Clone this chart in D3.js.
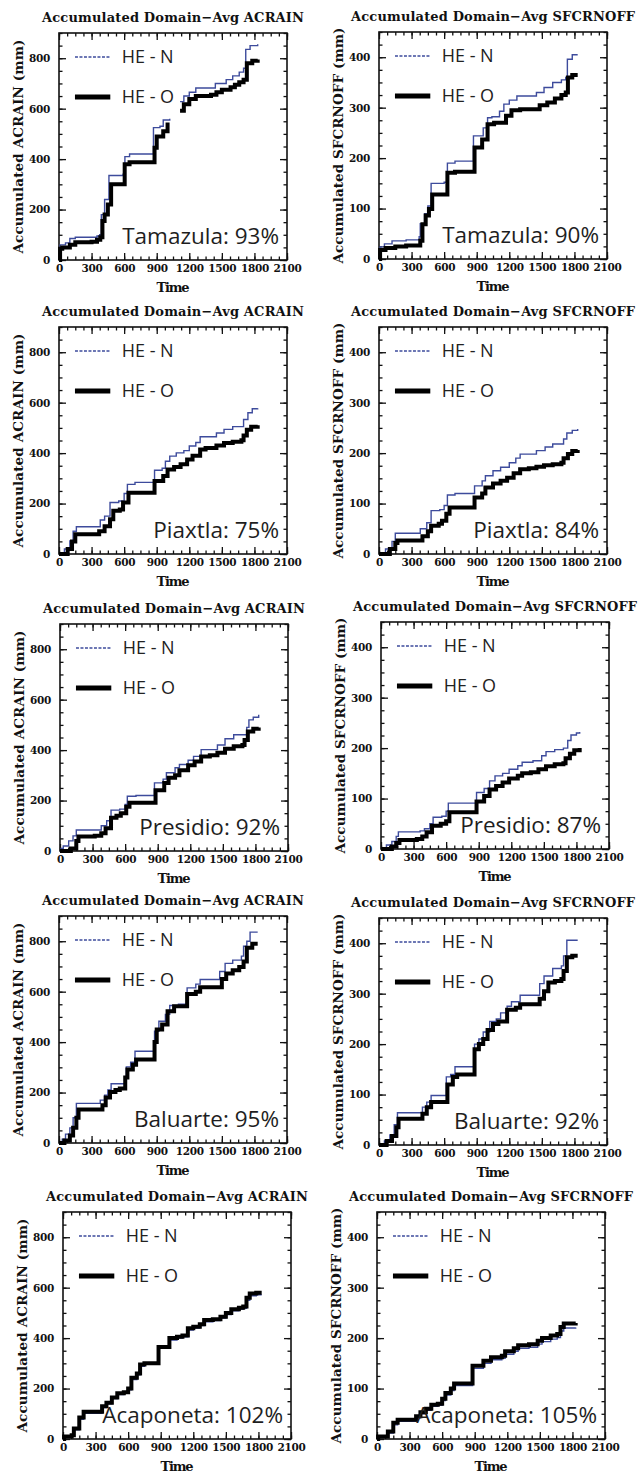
<!DOCTYPE html>
<html>
<head>
<meta charset="utf-8">
<script src="https://cdn.jsdelivr.net/npm/d3@7"></script>
<style>
  body { margin: 0; background: #fff; }
  svg { display: block; }
</style>
</head>
<body>
<div id="chart"></div>
<script>
// basins and the ratio printed in each panel
const basins = ['Tamazula', 'Piaxtla', 'Presidio', 'Baluarte', 'Acaponeta'];
const rainPct = ['93%', '75%', '92%', '95%', '102%'];
const runoffPct = ['90%', '84%', '87%', '92%', '105%'];

const xTicks = [0, 300, 600, 900, 1200, 1500, 1800, 2100];
const rainTicks = [0, 200, 400, 600, 800];
const runoffTicks = [0, 100, 200, 300, 400];

// [time, accumulated mm]  (null = missing output)
const tamazulaRainN = [[0,0],[10,60],[60,68],[100,85],[150,90],[350,95],[375,100],[390,180],[420,240],[460,335],[590,340],[607,410],[650,420],[870,525],[930,530],[960,555],[1020,560],[1030,null],[1115,628],[1150,650],[1200,665],[1260,682],[1440,700],[1540,715],[1600,730],[1660,745],[1700,760],[1720,835],[1760,850],[1830,855]];
const tamazulaRainO = [[0,0],[10,45],[30,50],[100,60],[150,70],[300,72],[350,80],[380,90],[400,155],[420,180],[450,220],[480,300],[605,380],[650,388],[880,445],[900,490],[960,510],[1000,545],[1030,null],[1115,592],[1150,618],[1200,638],[1260,650],[1400,655],[1450,665],[1500,675],[1580,685],[1620,695],[1660,705],[1700,715],[1730,780],[1780,790],[1830,795]];
const tamazulaRunN = [[0,0],[10,24],[50,30],[120,36],[250,38],[370,44],[380,70],[420,90],[450,105],[480,150],[600,152],[630,190],[700,194],[870,244],[960,260],[1000,280],[1040,282],[1110,293],[1150,307],[1200,315],[1270,323],[1450,330],[1520,340],[1600,350],[1680,355],[1720,360],[1735,396],[1780,405],[1830,405]];
const tamazulaRunO = [[0,0],[10,18],[60,22],[150,25],[250,27],[380,36],[400,69],[430,86],[460,99],[490,128],[630,171],[700,173],[880,221],[950,237],[1000,267],[1060,270],[1170,284],[1220,295],[1300,297],[1480,305],[1550,310],[1620,318],[1680,325],[1720,330],[1740,360],[1780,365],[1830,365]];

const piaxtlaRainN = [[0,0],[50,20],[100,52],[130,90],[160,108],[380,135],[420,150],[470,204],[550,210],[600,240],[630,276],[700,284],[880,332],[950,340],[980,368],[1020,388],[1080,401],[1150,410],[1200,428],[1260,442],[1300,465],[1450,480],[1520,494],[1600,505],[1700,533],[1740,560],[1780,576],[1830,578]];
const piaxtlaRainO = [[0,0],[80,20],[120,50],[150,78],[370,90],[420,110],[470,138],[500,171],[560,176],[590,204],[640,243],[880,289],[960,309],[1000,335],[1060,345],[1120,356],[1180,375],[1230,390],[1300,414],[1350,420],[1450,430],[1520,440],[1600,445],[1680,451],[1700,470],[1730,493],[1770,505],[1830,510]];
const piaxtlaRunN = [[0,0],[60,10],[120,25],[150,41],[380,50],[440,62],[480,86],[560,88],[600,96],[630,117],[700,120],[880,135],[950,145],[980,155],[1050,165],[1120,172],[1200,181],[1260,190],[1300,198],[1450,205],[1530,212],[1600,218],[1700,228],[1730,240],[1780,245],[1830,248]];
const piaxtlaRunO = [[0,0],[100,10],[150,22],[170,27],[400,35],[450,45],[480,56],[550,60],[580,66],[620,80],[650,92],[880,112],[950,120],[980,132],[1050,140],[1120,145],[1180,151],[1240,160],[1300,168],[1380,170],[1450,173],[1520,176],[1600,178],[1680,181],[1700,190],[1740,198],[1780,204],[1830,206]];

const presidioRainN = [[0,0],[10,10],[30,20],[80,40],[120,60],[150,83],[380,100],[430,120],[470,162],[550,166],[600,185],[620,217],[700,220],[870,270],[950,285],[980,310],[1060,330],[1100,343],[1180,360],[1230,375],[1300,402],[1450,420],[1520,445],[1600,461],[1720,490],[1740,520],[1780,530],[1830,540]];
const presidioRainO = [[0,0],[100,10],[150,40],[170,57],[320,60],[380,70],[420,90],[470,132],[520,140],[560,150],[610,175],[640,191],[880,241],[960,270],[1000,290],[1060,300],[1100,320],[1180,340],[1240,355],[1300,375],[1380,380],[1450,390],[1520,405],[1600,415],[1680,420],[1700,440],[1730,474],[1780,485],[1830,490]];
const presidioRunN = [[0,0],[50,8],[100,15],[140,25],[160,34],[360,36],[400,40],[450,50],[480,63],[560,65],[600,75],[620,91],[880,112],[950,120],[1000,135],[1050,145],[1120,150],[1180,158],[1260,165],[1300,172],[1400,175],[1480,185],[1520,193],[1600,197],[1680,200],[1720,215],[1750,226],[1800,230],[1830,232]];
const presidioRunO = [[0,0],[100,5],[140,12],[170,18],[330,20],[380,25],[420,33],[470,46],[550,50],[600,55],[630,73],[880,94],[950,105],[1000,118],[1060,125],[1120,132],[1180,140],[1260,145],[1300,150],[1380,152],[1450,158],[1520,164],[1600,168],[1680,170],[1700,180],[1740,189],[1780,196],[1830,200]];

const baluarteRainN = [[0,0],[30,15],[60,35],[100,60],[130,100],[160,157],[380,170],[420,190],[450,210],[480,235],[620,302],[660,320],[700,364],[880,443],[920,483],[980,510],[1020,545],[1100,550],[1180,615],[1260,630],[1300,648],[1480,680],[1530,712],[1600,725],[1680,741],[1700,780],[1730,800],[1760,836],[1830,836]];
const baluarteRainO = [[0,0],[50,10],[100,30],[130,60],[160,100],[180,133],[400,150],[430,180],[470,202],[520,210],[560,216],[610,260],[630,291],[680,310],[710,331],[880,400],[900,450],[950,470],[1000,522],[1060,542],[1180,591],[1260,600],[1300,618],[1500,650],[1540,672],[1600,685],[1660,698],[1700,720],[1730,774],[1780,790],[1830,790]];
const baluarteRunN = [[0,0],[50,8],[100,20],[140,40],[170,64],[400,75],[440,85],[480,98],[620,135],[660,140],[700,155],[880,200],[920,210],[960,224],[1020,245],[1080,250],[1120,262],[1180,275],[1220,284],[1300,297],[1480,320],[1520,335],[1600,350],[1680,355],[1700,375],[1730,406],[1830,406]];
const baluarteRunO = [[0,0],[70,8],[120,18],[160,35],[180,52],[400,62],[440,75],[480,85],[630,120],[680,135],[720,140],[880,190],[920,200],[960,210],[1000,228],[1050,240],[1100,245],[1180,268],[1260,272],[1300,279],[1480,290],[1520,305],[1560,322],[1620,325],[1680,329],[1700,345],[1730,372],[1780,375],[1830,375]];

const acaponetaRainN = [[0,0],[10,8],[80,12],[100,36],[150,78],[190,102],[360,125],[400,140],[450,160],[500,176],[560,181],[600,195],[630,236],[680,255],[710,288],[750,296],[880,360],[980,392],[1050,400],[1100,405],[1150,432],[1200,440],[1260,450],[1300,465],[1380,470],[1450,480],[1500,493],[1550,508],[1620,514],[1660,518],[1690,550],[1720,568],[1780,572],[1830,572]];
const acaponetaRainO = [[0,0],[10,10],[80,15],[100,42],[150,85],[190,108],[360,130],[400,144],[450,165],[500,181],[560,185],[600,200],[630,243],[680,260],[710,295],[750,300],[880,365],[980,400],[1050,405],[1100,410],[1150,439],[1200,445],[1260,455],[1300,472],[1380,475],[1450,485],[1500,500],[1550,514],[1620,520],[1660,525],[1690,560],[1720,577],[1780,580],[1830,580]];
const acaponetaRunN = [[0,0],[10,4],[100,12],[150,28],[190,35],[360,42],[400,50],[450,57],[500,65],[560,67],[600,76],[630,87],[680,96],[710,106],[880,140],[980,150],[1050,157],[1150,160],[1180,168],[1260,174],[1300,180],[1400,182],[1480,188],[1520,193],[1600,198],[1660,201],[1690,214],[1720,220],[1830,221]];
const acaponetaRunO = [[0,0],[10,5],[100,15],[150,32],[190,38],[360,45],[400,53],[450,60],[500,68],[560,70],[600,80],[630,91],[680,100],[710,110],[880,145],[980,155],[1050,162],[1150,165],[1180,174],[1260,180],[1300,186],[1400,188],[1480,195],[1520,200],[1600,205],[1660,208],[1690,222],[1720,229],[1830,230]];

const rainN = [tamazulaRainN, piaxtlaRainN, presidioRainN, baluarteRainN, acaponetaRainN];
const rainO = [tamazulaRainO, piaxtlaRainO, presidioRainO, baluarteRainO, acaponetaRainO];
const runN = [tamazulaRunN, piaxtlaRunN, presidioRunN, baluarteRunN, acaponetaRunN];
const runO = [tamazulaRunO, piaxtlaRunO, presidioRunO, baluarteRunO, acaponetaRunO];

// page layout (box corners for each row)
const W = 639, H = 1477;
const boxW = 228, boxH = 227;
const leftX = [59, 59, 60, 59, 63];
const leftTop = [33, 327, 624, 916, 1212];
const rightX = [379, 379, 381, 379, 377];
const rightTop = [32, 327, 622, 918, 1212];

const BLUE = '#3d4b9c';
const serifFont = '"DejaVu Serif", "Liberation Serif", serif';
const sansFont = '"Open Sans", "Noto Sans", sans-serif';

const svg = d3.select('#chart').append('svg')
    .attr('width', W)
    .attr('height', H);

function drawPanel(p) {
    const g = svg.append('g').attr('transform', `translate(${p.x},${p.y})`);

    const x = d3.scaleLinear().domain([0, 2100]).range([0, boxW]);
    const y = d3.scaleLinear().domain([0, p.yMax]).range([boxH, 0]);

    const xMinor = d3.range(0, 2101, 75);
    const yMinor = d3.range(0, p.yMax + 0.1, p.minor);

    // minor ticks on all four sides
    const minorAxes = [
        [d3.axisBottom(x).tickValues(xMinor), `translate(0,${boxH})`],
        [d3.axisTop(x).tickValues(xMinor), 'translate(0,0)'],
        [d3.axisLeft(y).tickValues(yMinor), 'translate(0,0)'],
        [d3.axisRight(y).tickValues(yMinor), `translate(${boxW},0)`]
    ];
    minorAxes.forEach(([ax, tr]) => {
        g.append('g').attr('transform', tr)
            .call(ax.tickSize(-3.5).tickSizeOuter(0).tickFormat(''));
    });

    // major ticks
    const fmt = d3.format('d');
    g.append('g').attr('class', 'xaxis')
        .attr('transform', `translate(0,${boxH})`)
        .call(d3.axisBottom(x).tickValues(xTicks).tickFormat(fmt).tickSize(-7).tickSizeOuter(0).tickPadding(5));
    g.append('g')
        .call(d3.axisTop(x).tickValues(xTicks).tickSize(-7).tickSizeOuter(0).tickFormat(''));
    g.append('g').attr('class', 'yaxis')
        .call(d3.axisLeft(y).tickValues(p.ticks).tickFormat(fmt).tickSize(-7).tickSizeOuter(0).tickPadding(9));
    g.append('g').attr('transform', `translate(${boxW},0)`)
        .call(d3.axisRight(y).tickValues(p.ticks).tickSize(-7).tickSizeOuter(0).tickFormat(''));

    g.selectAll('.domain').remove();
    g.selectAll('.tick line').attr('stroke', '#111').attr('stroke-width', 1.3);
    g.selectAll('.xaxis text, .yaxis text')
        .attr('fill', '#111')
        .style('font-family', serifFont)
        .style('font-weight', 'bold')
        .style('font-size', '10.5px')
        .style('letter-spacing', '-0.3px');

    // frame
    g.append('rect')
        .attr('width', boxW)
        .attr('height', boxH)
        .attr('fill', 'none')
        .attr('stroke', '#111')
        .attr('stroke-width', 1.6);

    const line = d3.line()
        .defined(d => d[1] !== null)
        .x(d => x(d[0]))
        .y(d => y(d[1]))
        .curve(d3.curveStepAfter);

    g.append('path')
        .datum(p.n)
        .attr('d', line)
        .attr('fill', 'none')
        .attr('stroke', BLUE)
        .attr('stroke-width', 1.4);

    g.append('path')
        .datum(p.o)
        .attr('d', line)
        .attr('fill', 'none')
        .attr('stroke', '#000')
        .attr('stroke-width', 4);

    // legend
    const lx0 = boxW * 0.07, lx1 = boxW * 0.225, tx = boxW * 0.275;
    g.append('line')
        .attr('x1', lx0).attr('x2', lx1)
        .attr('y1', 24).attr('y2', 24)
        .attr('stroke', BLUE)
        .attr('stroke-width', 1.4)
        .attr('stroke-dasharray', '3,1.5');
    g.append('line')
        .attr('x1', lx0).attr('x2', lx1)
        .attr('y1', 64).attr('y2', 64)
        .attr('stroke', '#000')
        .attr('stroke-width', 5);
    [['HE - N', 24], ['HE - O', 64]].forEach(([t, ly]) => {
        g.append('text')
            .attr('x', tx)
            .attr('y', ly)
            .attr('dy', '0.36em')
            .text(t)
            .attr('fill', '#222')
            .style('font-family', sansFont)
            .style('font-size', '18px');
    });

    // basin ratio
    g.append('text')
        .attr('x', boxW - 8)
        .attr('y', boxH - 16)
        .attr('text-anchor', 'end')
        .text(p.note)
        .attr('fill', '#1e1e1e')
        .style('font-family', sansFont)
        .style('font-size', '22.5px');

    // title and axis labels
    g.append('text')
        .attr('x', boxW / 2)
        .attr('y', -11)
        .attr('text-anchor', 'middle')
        .attr('textLength', p.titleLen)
        .attr('lengthAdjust', 'spacing')
        .text(p.title)
        .attr('fill', '#111')
        .style('font-family', serifFont)
        .style('font-weight', 'bold')
        .style('font-size', '13px');

    g.append('text')
        .attr('transform', 'rotate(-90)')
        .attr('x', -boxH / 2)
        .attr('y', -41)
        .attr('dy', '0.35em')
        .attr('text-anchor', 'middle')
        .attr('textLength', p.ylabelLen)
        .attr('lengthAdjust', 'spacing')
        .text(p.ylabel)
        .attr('fill', '#111')
        .style('font-family', serifFont)
        .style('font-weight', 'bold')
        .style('font-size', '13.5px');

    g.append('text')
        .attr('x', boxW / 2)
        .attr('y', boxH + 32)
        .attr('text-anchor', 'middle')
        .attr('textLength', 33)
        .attr('lengthAdjust', 'spacing')
        .text('Time')
        .attr('fill', '#111')
        .style('font-family', serifFont)
        .style('font-weight', 'bold')
        .style('font-size', '13px');
}

basins.forEach((b, i) => {
    drawPanel({
        x: leftX[i], y: leftTop[i], yMax: 900, minor: 50, ticks: rainTicks,
        n: rainN[i], o: rainO[i],
        title: 'Accumulated Domain\u2212Avg ACRAIN', titleLen: 262,
        ylabel: 'Accumulated ACRAIN (mm)', ylabelLen: 214,
        note: `${b}: ${rainPct[i]}`
    });
    drawPanel({
        x: rightX[i], y: rightTop[i], yMax: 450, minor: 25, ticks: runoffTicks,
        n: runN[i], o: runO[i],
        title: 'Accumulated Domain\u2212Avg SFCRNOFF', titleLen: 284,
        ylabel: 'Accumulated SFCRNOFF (mm)', ylabelLen: 236,
        note: `${b}: ${runoffPct[i]}`
    });
});
</script>
</body>
</html>
